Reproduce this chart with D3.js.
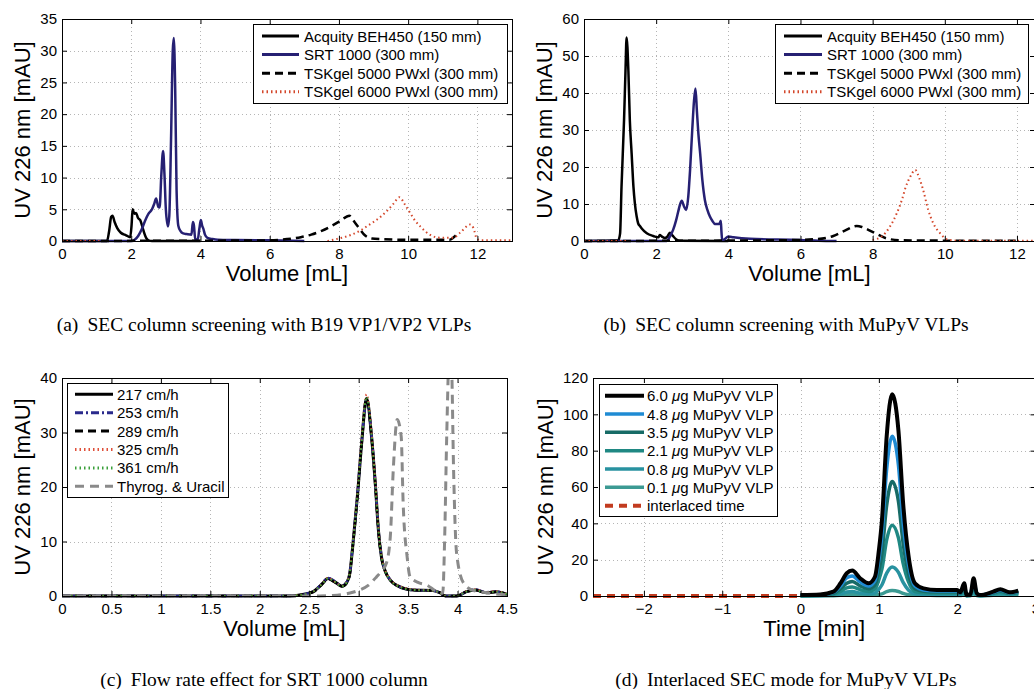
<!DOCTYPE html>
<html>
<head>
<meta charset="utf-8">
<script src="https://cdn.jsdelivr.net/npm/d3@7"></script>
<style>
body{margin:0;background:#fff}
svg text{font-family:"Liberation Sans",Arial,Helvetica,sans-serif;fill:#000}
svg text.cap{font-family:"Liberation Serif","Times New Roman",serif}
</style>
</head>
<body>
<svg id="fig" width="1034" height="689"></svg>
<script>
//////////////////////////
// data
//////////////////////////

// tick labels
var volTicksAB = [0,2,4,6,8,10,12];
var uvTicksA = [0,5,10,15,20,25,30,35];
var uvTicksB = [0,10,20,30,40,50,60];
var volTicksC = [0,0.5,1,1.5,2,2.5,3,3.5,4,4.5];
var uvTicksC = [0,10,20,30,40];
var timeTicksD = [-2,-1,0,1,2,3];
var uvTicksD = [0,20,40,60,80,100,120];

// legend names
var columnNames = ['Acquity BEH450 (150 mm)','SRT 1000 (300 mm)','TSKgel 5000 PWxl (300 mm)','TSKgel 6000 PWxl (300 mm)'];
var flowNames = ['217 cm/h','253 cm/h','289 cm/h','325 cm/h','361 cm/h','Thyrog. & Uracil'];
var loadNames = ['6.0 μg MuPyV VLP','4.8 μg MuPyV VLP','3.5 μg MuPyV VLP','2.1 μg MuPyV VLP','0.8 μg MuPyV VLP','0.1 μg MuPyV VLP','interlaced time'];

// (a) B19 VP1/VP2, [volume mL, mAU]
var acquityA = [[0,0],[1.3,0],[1.36,1.5],[1.42,3.8],[1.46,4.0],[1.52,3.0],[1.6,2.0],[1.7,1.3],[1.85,0.9],[1.97,0.6],[2.01,2.5],[2.04,5.0],[2.09,4.3],[2.14,4.4],[2.2,3.6],[2.26,3.3],[2.35,1.7],[2.43,0.5],[2.5,0.1],[2.6,0],[4,0]];
var srtA = [[0,0],[2.0,0],[2.1,0.2],[2.2,0.8],[2.3,1.8],[2.4,3.2],[2.5,4.3],[2.6,5.0],[2.66,5.8],[2.72,6.7],[2.78,5.4],[2.82,5.3],[2.87,10.5],[2.92,14.2],[2.96,10.5],[3.0,5],[3.06,2.3],[3.1,4],[3.15,16],[3.2,30],[3.23,32],[3.27,24],[3.31,8],[3.36,2.4],[3.42,1.6],[3.5,1.2],[3.6,1.1],[3.74,1.0],[3.78,3.0],[3.81,2.5],[3.85,0.3],[3.92,0.2],[3.97,2.0],[4.01,3.3],[4.05,2.4],[4.08,2.0],[4.13,1.0],[4.2,0.5],[4.35,0.3],[4.5,0.2],[5.0,0.15],[6.0,0.1],[7,0]];
var tsk5000A = [[0,0],[6,0.1],[6.5,0.3],[6.9,0.6],[7.2,1.0],[7.5,1.6],[7.8,2.4],[8.05,3.2],[8.3,4.0],[8.45,3.0],[8.6,1.9],[8.75,0.9],[8.95,0.4],[9.2,0.3],[10,0.2],[11.2,0.2],[11.3,0.5],[11.4,1.0]];
var tsk6000A = [[0,0],[1.1,0],[1.1,null],[7.67,0],[8.0,0.4],[8.32,0.9],[8.6,1.6],[8.8,2.3],[9.0,3.0],[9.2,3.8],[9.4,4.8],[9.58,5.9],[9.75,6.9],[9.9,5.8],[10.06,4.4],[10.2,3.2],[10.35,2.3],[10.5,1.5],[10.64,0.95],[10.8,0.6],[11.0,0.5],[11.3,0.5],[11.5,1.3],[11.79,2.6],[11.89,2.0],[11.98,0.4],[12.1,0.1],[13,0.1]];

// (b) MuPyV, [volume mL, mAU]
var acquityB = [[0,0],[0.95,0.2],[1.0,2],[1.04,14.7],[1.11,32.7],[1.15,46],[1.18,55],[1.23,46],[1.27,32.7],[1.32,23.7],[1.37,14.7],[1.41,10.2],[1.46,6.6],[1.5,4.8],[1.55,4.05],[1.6,3.4],[1.74,2.1],[1.92,1.35],[2.06,1.0],[2.1,1.6],[2.16,1.2],[2.24,0.8],[2.31,1.2],[2.38,2.2],[2.45,1.5],[2.55,0.5],[2.65,0.1],[4,0]];
var srtB = [[0,0],[2.29,0],[2.38,1.2],[2.47,3],[2.55,5.5],[2.61,7.9],[2.66,9.8],[2.71,10.9],[2.77,9.4],[2.83,8.4],[2.89,12],[2.94,19.2],[3.0,30],[3.05,38],[3.09,41.2],[3.13,35],[3.17,29],[3.22,23.6],[3.28,16.5],[3.35,11.1],[3.42,8.4],[3.49,6.6],[3.56,5.4],[3.63,4.6],[3.75,4.6],[3.79,5.5],[3.81,2.5],[3.83,0.2],[3.9,0.5],[4.0,1.2],[4.14,1.0],[4.6,0.6],[6.0,0.3],[6.5,0.1],[7,0]];
var tsk5000B = [[0,0],[5.4,0.2],[6.36,0.45],[6.91,1.35],[7.23,2.8],[7.56,4.05],[7.7,3.8],[7.84,3.2],[8.07,2.1],[8.39,0.7],[8.76,0.2],[10,0.1],[12,0.1]];
var tsk6000B = [[0,0],[1.2,0],[1.2,null],[8.0,0.3],[8.25,1.2],[8.48,3.9],[8.67,7.5],[8.81,11.1],[8.92,14.7],[9.05,17.5],[9.18,19.2],[9.3,16.8],[9.4,13.8],[9.54,8.4],[9.68,4.8],[9.87,2.1],[10.05,0.5],[10.3,0.1],[12.5,0.1]];

// (c) flow rates on the SRT 1000, shared volume grid
var volC = [0,2.3,2.41,2.54,2.62,2.69,2.76,2.83,2.88,2.91,2.94,2.99,3.03,3.08,3.13,3.17,3.2,3.23,3.27,3.32,3.38,3.55,3.75,3.82,3.88,3.99,4.09,4.18,4.29,4.39,4.5];
var uv217 = [0,0,0.2,0.8,2.0,3.2,2.6,1.8,2.5,4.1,9.1,18.9,28,36.3,29.3,20.1,12,7.2,4.5,2.9,2.0,1.1,1.0,0.6,0,0,0.8,1.1,0.6,0.8,0.3];
var uv253 = [0,0,0.2,0.8,2.1,3.3,2.7,1.9,2.6,4.2,9.3,19.2,28.3,36.0,29.5,20.3,12.2,7.3,4.6,3.0,2.0,1.1,1.0,0.6,0,0,0.8,1.2,0.7,0.8,0.3];
var uv289 = [0,0,0.2,0.7,2.0,3.1,2.5,1.8,2.4,4.0,9.0,18.7,27.8,36.2,29.2,20.0,11.9,7.1,4.5,2.9,2.0,1.1,1.0,0.6,0,0,0.8,1.1,0.6,0.8,0.3];
var uv325 = [0,0,0.2,0.8,2.1,3.3,2.6,1.9,2.6,4.3,9.4,19.5,28.8,37.0,30.0,20.6,12.3,7.4,4.6,3.0,2.1,1.2,1.0,0.6,0,0,0.9,1.2,0.7,0.9,0.3];
var uv361 = [0,0,0.2,0.8,2.0,3.2,2.6,1.8,2.5,4.2,9.2,19.0,28.2,36.5,29.6,20.2,12.1,7.2,4.5,2.9,2.0,1.1,1.0,0.6,0,0,0.8,1.1,0.6,0.8,0.3];
var thyrogC = [[0,0],[2.6,0],[2.74,0.1],[2.9,0.5],[3.01,1.1],[3.1,2.0],[3.18,3.5],[3.24,4.8],[3.28,6],[3.32,10.9],[3.35,23.2],[3.39,32.4],[3.43,29.3],[3.45,17],[3.49,7.2],[3.52,3.5],[3.6,2.5],[3.69,2.0],[3.79,0.8],[3.85,0.5],[3.87,10.9],[3.89,29],[3.92,46],[3.94,42],[3.96,23],[3.99,7.9],[4.06,2.4],[4.16,1.0],[4.3,0.6],[4.43,0.3],[4.5,0.2]];

// (d) interlaced runs, shared time grid [min]
var timeD = [0,0.25,0.42,0.51,0.59,0.66,0.76,0.87,0.95,1.0,1.04,1.1,1.17,1.25,1.31,1.38,1.46,1.57,1.74,2.0,2.04,2.09,2.12,2.17,2.21,2.25,2.29,2.46,2.55,2.67,2.78];
var uv6_0 = [0.5,0.8,2.4,7,12.5,14,9.8,7,10.6,25,42,88,111,91,51,21.7,7,4.2,3.3,3.3,2.0,7,0.5,1.0,9.8,1.5,0.5,2.4,3.7,2.0,3.0];
var uv4_8 = [0.4,0.6,2.0,5.5,10,11,7.8,5.5,8.5,20,34,70,88,72,40,17,5.5,3.3,2.8,2.8,1.8,6,0.5,1.0,8.5,1.3,0.5,2.0,3.2,1.8,2.6];
var uv3_5 = [0.3,0.5,1.5,4,7,8,5.6,4,6.1,14,24,50,63,52,29,12,4,2.6,2.3,2.3,1.5,5,0.4,0.8,7,1.1,0.4,1.7,2.7,1.5,2.2];
var uv2_1 = [0.2,0.4,1,2.5,4.5,5,3.5,2.5,3.8,9,15,31,39,32,18,7.6,2.5,1.8,1.6,1.6,1.2,3.5,0.3,0.6,5,0.9,0.3,1.3,2,1.2,1.8];
var uv0_8 = [0.1,0.2,0.5,1.2,2.2,2.5,1.6,1.2,1.7,3.8,6.2,12.6,16,13,7.5,3.2,1.2,1.0,0.9,0.9,0.8,2,0.2,0.4,3,0.6,0.2,0.9,1.4,0.8,1.2];
var uv0_1 = [0,0.1,0.2,0.4,0.7,0.8,0.5,0.4,0.5,0.8,1.2,2.4,3,2.5,1.4,0.7,0.4,0.4,0.3,0.3,0.3,0.8,0.1,0.2,1.2,0.3,0.1,0.4,0.6,0.4,0.5];
var interlacedD = [[-2.65,0],[0,0]];

function zipXY(xs, ys){ return xs.map(function(v,i){ return [v, ys[i]]; }); }

// line styles (colour, width, dash)
var st = {
	acq:{c:'#000',w:2.5}, srt:{c:'#262073',w:2.5},
	tsk5:{c:'#000',w:2.5,d:'8,5'}, tsk6:{c:'#d4472b',w:2,d:'1.5,3'},
	f217:{c:'#000',w:3}, f253:{c:'#2a2a8c',w:2.5,d:'8,3,2,3'}, f289:{c:'#000',w:2.5,d:'8,5'},
	f325:{c:'#e0503a',w:2,d:'1.5,3'}, f361:{c:'#3aa03a',w:2,d:'1.5,3'}, thy:{c:'#8a8a8a',w:3,d:'9,6'},
	l60:{c:'#000',w:4}, l48:{c:'#1f8bd3',w:3.5}, l35:{c:'#176b66',w:3.5}, l21:{c:'#1f8883',w:3.5},
	l08:{c:'#2892a0',w:3.5}, l01:{c:'#3c9a93',w:3.5}, inter:{c:'#c23b1f',w:4,d:'8,6'}
};

var panels = [
	{id:'a', left:62, right:512, top:19, bottom:241, xDomain:[0,13], yDomain:[0,35],
		xTicks:volTicksAB, yTicks:uvTicksA, xLabel:'Volume [mL]', yOff:32,
		cap:['(a)','SEC column screening with B19 VP1/VP2 VLPs'], capX:264, capY:331,
		series:[[acquityA,st.acq],[srtA,st.srt],[tsk5000A,st.tsk5],[tsk6000A,st.tsk6]],
		legend:{x:253, y:24, w:254, h:79, row0:36, step:18.6, sx1:262, sx2:299, tx:304,
			items:[st.acq,st.srt,st.tsk5,st.tsk6], names:columnNames}},
	{id:'b', left:584, right:1035, top:19, bottom:241, xDomain:[0,12.5], yDomain:[0,60],
		xTicks:volTicksAB, yTicks:uvTicksB, xLabel:'Volume [mL]', yOff:32,
		cap:['(b)','SEC column screening with MuPyV VLPs'], capX:786, capY:331,
		series:[[acquityB,st.acq],[srtB,st.srt],[tsk5000B,st.tsk5],[tsk6000B,st.tsk6]],
		legend:{x:775, y:24, w:253, h:79, row0:36, step:18.6, sx1:784, sx2:822, tx:827,
			items:[st.acq,st.srt,st.tsk5,st.tsk6], names:columnNames}},
	{id:'c', left:62, right:507, top:378, bottom:596, xDomain:[0,4.5], yDomain:[0,40],
		xTicks:volTicksC, yTicks:uvTicksC, xLabel:'Volume [mL]', yOff:32,
		cap:['(c)','Flow rate effect for SRT 1000 column'], capX:264, capY:686,
		series:[[zipXY(volC,uv217),st.f217],[zipXY(volC,uv253),st.f253],[zipXY(volC,uv289),st.f289],
			[zipXY(volC,uv325),st.f325],[zipXY(volC,uv361),st.f361],[thyrogC,st.thy]],
		legend:{x:67, y:383, w:161, h:114, row0:394.3, step:18.4, sx1:75, sx2:113, tx:117,
			items:[st.f217,st.f253,st.f289,st.f325,st.f361,st.thy], names:flowNames}},
	{id:'d', left:593, right:1035.5, top:378, bottom:596, xDomain:[-2.65,3], yDomain:[0,120],
		xTicks:timeTicksD, yTicks:uvTicksD, xLabel:'Time [min]', yOff:40,
		cap:['(d)','Interlaced SEC mode for MuPyV VLPs'], capX:786, capY:686,
		series:[[zipXY(timeD,uv0_1),st.l01],[zipXY(timeD,uv0_8),st.l08],[zipXY(timeD,uv2_1),st.l21],
			[zipXY(timeD,uv3_5),st.l35],[zipXY(timeD,uv4_8),st.l48],[zipXY(timeD,uv6_0),st.l60],[interlacedD,st.inter]],
		legend:{x:599, y:384, w:178, h:132, row0:395.7, step:18.33, sx1:605, sx2:644, tx:647,
			items:[st.l60,st.l48,st.l35,st.l21,st.l08,st.l01,st.inter], names:loadNames}}
];

var svg = d3.select('#fig');
var defs = svg.append('defs');

function styleLine(sel, s){
	sel.attr('fill','none').attr('stroke',s.c).attr('stroke-width',s.w)
		.attr('stroke-dasharray', s.d ? s.d : null);
}

function drawPanel(p){
	var g = svg.append('g').attr('id','panel'+p.id);
	var x = d3.scaleLinear().domain(p.xDomain).range([p.left,p.right]);
	var y = d3.scaleLinear().domain(p.yDomain).range([p.bottom,p.top]);

	//dotted grid
	g.selectAll('.gx').data(p.xTicks).enter().append('line')
		.attr('x1',function(d){return Math.round(x(d))+0.5}).attr('x2',function(d){return Math.round(x(d))+0.5})
		.attr('y1',p.top).attr('y2',p.bottom)
		.attr('stroke','#b5b5b5').attr('stroke-dasharray','1,3');
	g.selectAll('.gy').data(p.yTicks).enter().append('line')
		.attr('y1',function(d){return Math.round(y(d))+0.5}).attr('y2',function(d){return Math.round(y(d))+0.5})
		.attr('x1',p.left).attr('x2',p.right)
		.attr('stroke','#b5b5b5').attr('stroke-dasharray','1,3');

	//curves, clipped to the axes
	defs.append('clipPath').attr('id','clip'+p.id).append('rect')
		.attr('x',p.left-2).attr('y',p.top).attr('width',p.right-p.left+4).attr('height',p.bottom-p.top+4);
	var line = d3.line()
		.defined(function(d){return d[1] != null})
		.x(function(d){return x(d[0])}).y(function(d){return y(d[1])})
		.curve(d3.curveMonotoneX);
	var cg = g.append('g').attr('clip-path','url(#clip'+p.id+')');
	p.series.forEach(function(s){
		cg.append('path').datum(s[0]).attr('d',line).attr('stroke-linejoin','round').call(styleLine, s[1]);
	});

	//axes, ticks inside on all four sides
	var fmt = d3.format('~g');
	var axB = g.append('g').attr('transform','translate(0,'+p.bottom+')')
		.call(d3.axisBottom(x).tickValues(p.xTicks).tickFormat(fmt).tickSize(-5).tickSizeOuter(0).tickPadding(7));
	var axL = g.append('g').attr('transform','translate('+p.left+',0)')
		.call(d3.axisLeft(y).tickValues(p.yTicks).tickFormat(fmt).tickSize(-5).tickSizeOuter(0).tickPadding(5));
	var axT = g.append('g').attr('transform','translate(0,'+p.top+')')
		.call(d3.axisTop(x).tickValues(p.xTicks).tickFormat('').tickSize(-5).tickSizeOuter(0));
	var axR = g.append('g').attr('transform','translate('+p.right+',0)')
		.call(d3.axisRight(y).tickValues(p.yTicks).tickFormat('').tickSize(-5).tickSizeOuter(0));
	[axB,axL,axT,axR].forEach(function(a){
		a.attr('font-family',null).attr('font-size',null);
		a.selectAll('text').style('font-size','15px');
		a.select('.domain').remove();
	});
	g.append('rect').attr('x',p.left+0.5).attr('y',p.top+0.5)
		.attr('width',p.right-p.left).attr('height',p.bottom-p.top)
		.attr('fill','none').attr('stroke','#000').attr('stroke-width',1);

	//axis labels
	g.append('text').attr('x',(p.left+p.right)/2).attr('y',p.bottom+40)
		.attr('text-anchor','middle').style('font-size','22px').text(p.xLabel);
	g.append('text')
		.attr('transform','translate('+(p.left-p.yOff)+','+((p.top+p.bottom)/2)+') rotate(-90)')
		.attr('text-anchor','middle').style('font-size','22px').text('UV 226 nm [mAU]');

	//legend
	var L = p.legend;
	var lg = g.append('g');
	lg.append('rect').attr('x',L.x+0.5).attr('y',L.y+0.5).attr('width',L.w).attr('height',L.h)
		.attr('fill','#fff').attr('stroke','#000');
	L.items.forEach(function(s,i){
		var yy = L.row0 + i*L.step;
		lg.append('line').attr('x1',L.sx1).attr('x2',L.sx2).attr('y1',yy).attr('y2',yy)
			.call(styleLine, {c:s.c, w:Math.max(s.w,3), d:s.d});
		var t = lg.append('text').attr('x',L.tx).attr('y',yy+5.5).style('font-size','15px');
		var parts = L.names[i].split('μ');
		t.append('tspan').text(parts[0]);
		if (parts.length > 1){
			t.append('tspan').style('font-style','italic').text('μ');
			t.append('tspan').text(parts[1]);
		}
	});

	//caption
	var cap = svg.append('text').attr('class','cap').attr('x',p.capX).attr('y',p.capY)
		.attr('text-anchor','middle').style('font-size','19.5px');
	cap.append('tspan').text(p.cap[0]);
	cap.append('tspan').attr('dx',9).text(p.cap[1]);
}

panels.forEach(drawPanel);
</script>
</body>
</html>
